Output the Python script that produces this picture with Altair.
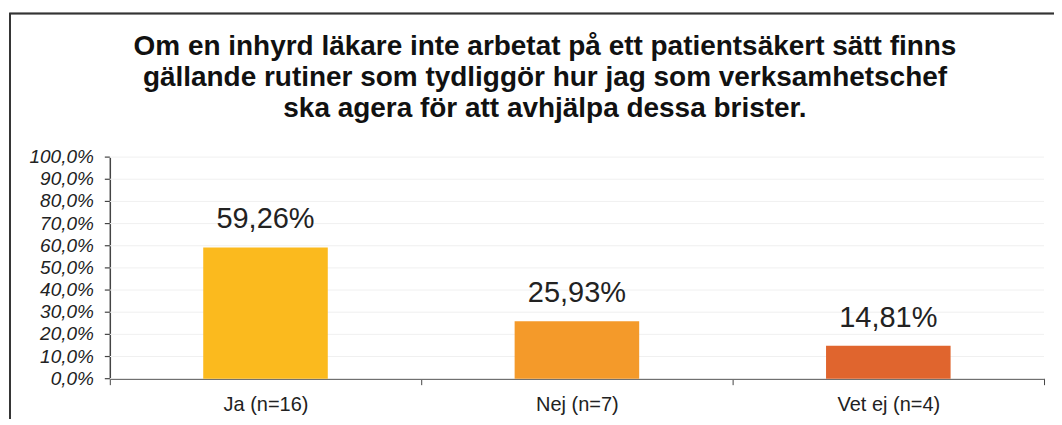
import altair as alt
import pandas as pd

categories = ["Ja (n=16)", "Nej (n=7)", "Vet ej (n=4)"]
values = [59.26, 25.93, 14.81]
colors = ["#FBBA1E", "#F49A2A", "#E0652E"]
y_ticks = [0.0, 0.1, 0.2, 0.3, 0.4, 0.5, 0.6, 0.7, 0.8, 0.9, 1.0]
title_lines = [
    "Om en inhyrd läkare inte arbetat på ett patientsäkert sätt finns",
    "gällande rutiner som tydliggör hur jag som verksamhetschef",
    "ska agera för att avhjälpa dessa brister.",
]

df = pd.DataFrame({"cat": categories, "value": [v / 100 for v in values], "color": colors})
ticks_df = pd.DataFrame({"v": y_ticks})
title_df = pd.DataFrame({"t": ["\n".join(title_lines)]})

FONT = "Liberation Sans"
W, H = 936, 222

x_axis = alt.Axis(
    labelAngle=0,
    labelFontSize=20,
    labelFont=FONT,
    labelColor="#222",
    labelPadding=10,
    tickBand="extent",
    tickSize=6,
    tickColor="#444",
    domainColor="#555",
    domainWidth=1.5,
)
y_axis = alt.Axis(
    labels=False,
    ticks=False,
    grid=False,
    domainColor="#444",
    domainWidth=1.5,
)
x_scale = alt.Scale(paddingInner=0, paddingOuter=0)
y_scale = alt.Scale(domain=[0, 1], nice=False)

X = alt.X("cat:N", sort=categories, title=None, scale=x_scale, axis=x_axis)
Y = alt.Y("value:Q", title=None, scale=y_scale, axis=y_axis)
YT = alt.Y("v:Q", title=None, scale=y_scale, axis=y_axis)

grid = alt.Chart(ticks_df).mark_rule(color="#f0f0f0", strokeWidth=1).encode(
    y=YT, x=alt.value(0), x2=alt.value(W)
)
yticks = alt.Chart(ticks_df).mark_rule(color="#444", strokeWidth=1.2).encode(
    y=YT, x=alt.value(-5), x2=alt.value(0)
)
ylabels = alt.Chart(ticks_df).transform_calculate(
    lab="replace(format(datum.v, '.1%'), '.', ',')"
).mark_text(
    font=FONT, fontSize=19, fontStyle="italic", color="#222",
    align="right", baseline="middle",
).encode(y=YT, x=alt.value(-16), text="lab:N")

bars = alt.Chart(df).mark_bar(width=alt.RelativeBandSize(0.4)).encode(
    x=X,
    y=Y,
    color=alt.Color("color:N", scale=None, legend=None),
)

labels = alt.Chart(df).transform_calculate(
    label="replace(format(datum.value, '.2%'), '.', ',')"
).mark_text(
    font=FONT, fontSize=29, color="#222", baseline="bottom", dy=-13
).encode(x=X, y=Y, text="label:N")

frame = alt.Chart(df).mark_rect(
    fill=None, stroke="#333", strokeWidth=1.5
).encode(
    x=alt.value(-100), x2=alt.value(1000), y=alt.value(-144), y2=alt.value(300)
)

title = alt.Chart(title_df).mark_text(
    font=FONT, fontSize=28, fontWeight="bold", color="#111",
    lineBreak="\n", lineHeight=31, baseline="top", align="center",
).encode(x=alt.value(436), y=alt.value(-124), text="t:N")

chart = alt.layer(frame, title, grid, yticks, ylabels, bars, labels).properties(
    width=W,
    height=H,
    autosize=alt.AutoSizeParams(type="none"),
    padding={"left": 102, "top": 149, "right": 10, "bottom": 40},
).configure_view(stroke=None)

chart.save("out.html", embed_options={"renderer": "svg", "actions": False})
